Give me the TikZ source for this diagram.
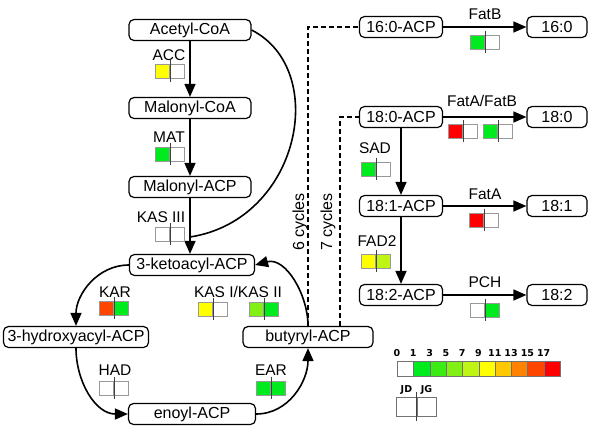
\documentclass[tikz,border=0pt]{standalone}
\usepackage{fontspec}
\setmainfont{Liberation Sans}
\newfontfamily\legfont{DejaVu Sans}
\usetikzlibrary{arrows.meta}

\definecolor{s0}{RGB}{255,255,255}
\definecolor{s1}{RGB}{0,235,30}
\definecolor{s2}{RGB}{60,235,20}
\definecolor{s3}{RGB}{130,240,20}
\definecolor{s4}{RGB}{190,245,20}
\definecolor{s5}{RGB}{255,255,0}
\definecolor{s6}{RGB}{255,200,0}
\definecolor{s7}{RGB}{255,130,0}
\definecolor{s8}{RGB}{255,70,0}
\definecolor{s9}{RGB}{255,0,0}

\newcommand{\enzbox}[4]{%
  \node[cell, fill=#3, anchor=east] (#1l) at #2 {};
  \node[cell, fill=#4, anchor=west] (#1r) at #2 {};
  \draw[divider] ([yshift=4pt]#1l.north east) -- ([yshift=-4pt]#1l.south east);}

\begin{document}
\begin{tikzpicture}[x=1pt,y=-1pt,
  met/.style={draw, rounded corners=5pt, line width=1.2pt, minimum height=21pt, inner sep=2pt, font=\fontsize{16}{18}\selectfont},
  flow/.style={line width=1.6pt},
  rxn/.style={flow, -{Triangle[length=13pt,width=11pt]}},
  cyc/.style={line width=1.5pt, dash pattern=on 5pt off 3pt},
  enz/.style={inner sep=0pt, anchor=base, font=\fontsize{15.5}{17}\selectfont},
  cell/.style={draw=gray!80, line width=0.8pt, minimum width=14pt, minimum height=14pt, inner sep=0pt},
  divider/.style={draw=black!75, line width=0.8pt},
  legcell/.style={draw=black!55, line width=0.6pt, minimum width=16.3pt, minimum height=15pt, inner sep=0pt, anchor=west},
  jcell/.style={draw=black!55, line width=0.6pt, minimum width=19.5pt, minimum height=19pt, inner sep=0pt},
  legnum/.style={inner sep=0pt, anchor=base, font=\legfont\bfseries\fontsize{9.5}{11}\selectfont}]
\useasboundingbox (0,0) rectangle (592,429);

\node[met, minimum width=122pt] (acetyl) at (190,30) {Acetyl-CoA};
\node[met, minimum width=122pt] (malcoa) at (190,108) {Malonyl-CoA};
\node[met, minimum width=122pt] (malacp) at (190,187) {Malonyl-ACP};
\node[met, minimum width=125pt] (keto) at (192,265) {3-ketoacyl-ACP};
\node[met, minimum width=145pt] (hydroxy) at (76,337) {3-hydroxyacyl-ACP};
\node[met, minimum width=127pt] (enoyl) at (192,414) {enoyl-ACP};
\node[met, minimum width=130pt] (butyryl) at (308,337) {butyryl-ACP};
\node[met, minimum width=83pt] (p160) at (401,27) {16:0-ACP};
\node[met, minimum width=60pt] (f160) at (557,27) {16:0};
\node[met, minimum width=83pt] (p180) at (401,117) {18:0-ACP};
\node[met, minimum width=60pt] (f180) at (557,117) {18:0};
\node[met, minimum width=83pt] (p181) at (401,206) {18:1-ACP};
\node[met, minimum width=60pt] (f181) at (557,206) {18:1};
\node[met, minimum width=83pt] (p182) at (401,295) {18:2-ACP};
\node[met, minimum width=60pt] (f182) at (557,295) {18:2};

\coordinate (kjoin) at (190,237);
\coordinate (b7) at ([xshift=32pt]butyryl.north);

\draw[rxn] (acetyl) -- (malcoa);
\draw[rxn] (malcoa) -- (malacp);
\draw[rxn] (malacp.south) -- (malacp.south |- keto.north);
\draw[flow] (acetyl.east) .. controls (330,70) and (300,220) .. (kjoin);
\draw[rxn] (keto.west) to[out=180, in=90] (hydroxy.north);
\draw[rxn] (hydroxy.south) to[out=-90, in=180] (enoyl.west);
\draw[rxn] (enoyl.east) to[out=0, in=-90] (butyryl.south);
\draw[rxn] (butyryl.north) to[out=90, in=15] (keto.east);
\draw[cyc] (butyryl.north) |- (p160);
\draw[cyc] (b7) |- (p180);
\draw[rxn] (p160) -- (f160);
\draw[rxn] (p180) -- (f180);
\draw[rxn] (p180) -- (p181);
\draw[rxn] (p181) -- (f181);
\draw[rxn] (p181) -- (p182);
\draw[rxn] (p182) -- (f182);

\node[rotate=90, inner sep=0pt, font=\fontsize{16}{18}\selectfont] (six) at (300,222) {6 cycles};
\node[rotate=90, inner sep=0pt, font=\fontsize{16}{18}\selectfont] (seven) at (328,222) {7 cycles};

\node[enz] (tacc) at (169,60) {ACC};
\enzbox{acc}{(170,71)}{s5}{white}
\node[enz] (tmat) at (169,142) {MAT};
\enzbox{mat}{(170,154)}{s1}{white}
\node[enz] (tkas3) at (161,222) {KAS III};
\enzbox{kas3}{(170,234)}{white}{white}
\node[enz] (tkar) at (115,297) {KAR};
\enzbox{kar}{(114,308)}{s8}{s1}
\node[enz] (tkas) at (238,297) {KAS I/KAS II};
\enzbox{kasa}{(213,309)}{s5}{white}
\enzbox{kasb}{(264,309)}{s3}{s1}
\node[enz] (thad) at (115,375) {HAD};
\enzbox{had}{(114,388)}{white}{white}
\node[enz] (tear) at (271,375) {EAR};
\enzbox{ear}{(271,388)}{s1}{s1}
\node[enz] (tfatb) at (485,19) {FatB};
\enzbox{fatb}{(485,42)}{s1}{white}
\node[enz] (tfatab) at (482,106) {FatA/FatB};
\enzbox{fatab}{(463,131)}{s9}{white}
\enzbox{fatba}{(498,131)}{s1}{white}
\node[enz] (tsad) at (375,153) {SAD};
\enzbox{sad}{(376,169)}{s1}{white}
\node[enz] (tfata) at (485,199) {FatA};
\enzbox{fata}{(484,220)}{s9}{white}
\node[enz] (tfad) at (377,246) {FAD2};
\enzbox{fad}{(376,261)}{s5}{s4}
\node[enz] (tpch) at (485,287) {PCH};
\enzbox{pch}{(485,310)}{white}{s1}

\foreach \i/\v in {0/0,1/1,2/3,3/5,4/7,5/9,6/11,7/13,8/15,9/17} {
  \node[legcell, fill=s\i] (lc\i) at ({397+16.3*\i},368.5) {};
  \node[legnum] (ln\i) at ([yshift=4pt]lc\i.north west) {\v};
}

\node[jcell, anchor=east] (jd) at (416.5,406.5) {};
\node[jcell, anchor=west] (jg) at (416.5,406.5) {};
\draw[divider] ([yshift=5pt]jd.north east) -- ([yshift=-5pt]jd.south east);
\node[legnum] (tjd) at ([yshift=4pt]jd.north) {JD};
\node[legnum] (tjg) at ([yshift=4pt]jg.north) {JG};
\end{tikzpicture}
\end{document}
